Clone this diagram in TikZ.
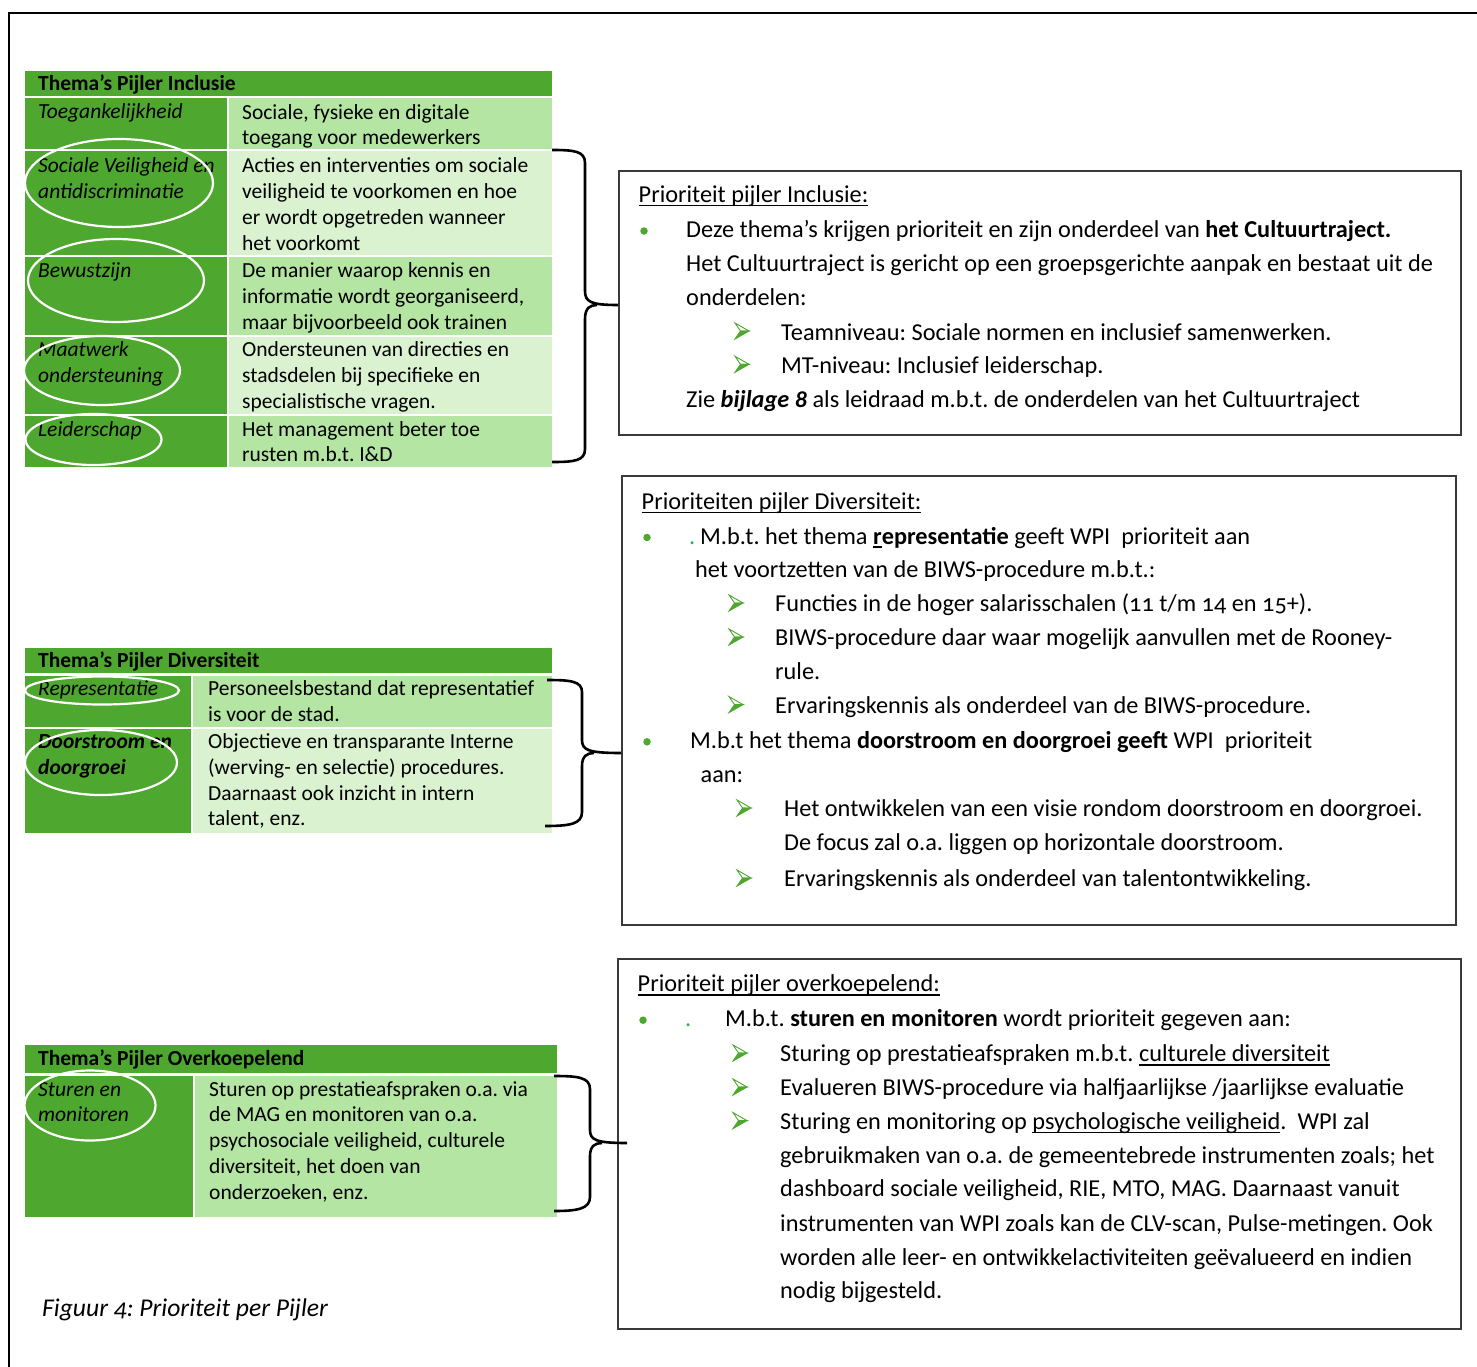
\documentclass[tikz,border=0pt]{standalone}
\usepackage{fontspec}
\setmainfont{Carlito}[Numbers=OldStyle]
\definecolor{dg}{HTML}{4EA72E}
\definecolor{mg}{HTML}{B4E5A2}
\definecolor{lg}{HTML}{DAF2D0}
\definecolor{bull}{HTML}{4EA72E}
\definecolor{dotc}{HTML}{2EB050}
\definecolor{bx}{HTML}{3A3A3A}
\newcommand\myul[1]{\setbox0\hbox{#1}\rlap{\rule[-3.8pt]{\wd0}{1.5pt}}\box0}
\begin{document}
\frenchspacing
\begin{tikzpicture}[x=1pt,y=-1pt,
  txt/.style={anchor=base west,inner sep=0pt,font=\fontsize{21.5}{26}\selectfont},
  itxt/.style={anchor=base west,inner sep=0pt,font=\fontsize{21.5}{26}\selectfont\itshape},
  htxt/.style={anchor=base west,inner sep=0pt,font=\fontsize{21.5}{26}\selectfont\bfseries},
  btxt/.style={anchor=base west,inner sep=0pt,font=\fontsize{24.3}{34}\selectfont},
  dotb/.style={circle,fill=bull,inner sep=0pt,minimum size=7.5pt},
  dotp/.style={anchor=base west,inner sep=0pt,text=dotc,font=\fontsize{24.3}{26}\selectfont},
  arrpic/.pic={
    \filldraw[draw=bull,fill=white,line width=0.9pt,line join=miter] (0,-8) -- (14,0) -- (5.5,0) -- cycle;
    \filldraw[draw=bull,fill=bull,line width=0.9pt,line join=miter] (5.5,0) -- (14,0) -- (0,8) -- cycle;},
  ell/.style={draw=white,line width=2.2pt},
  brc/.style={draw=black,line width=2.6pt},
  prbox/.style={draw=bx,line width=1.6pt,rectangle,inner sep=0pt,anchor=north west}]
\useasboundingbox (0,0) rectangle (1477,1367);
\fill[white] (0,0) rectangle (1477,1367);
% outer frame
\draw[line width=2.5pt] (9,1367) -- (9,13) -- (1477,13);

% ---------- Table Inclusie ----------
\fill[dg] (25,71) rectangle (552,96);
\fill[dg] (25,98) rectangle (227,149);  \fill[mg] (229,98) rectangle (552,149);
\fill[dg] (25,151) rectangle (227,255); \fill[lg] (229,151) rectangle (552,255);
\fill[dg] (25,257) rectangle (227,335); \fill[mg] (229,257) rectangle (552,335);
\fill[dg] (25,337) rectangle (227,414); \fill[lg] (229,337) rectangle (552,414);
\fill[dg] (25,416) rectangle (227,467); \fill[mg] (229,416) rectangle (552,467);

\node[htxt] (h1) at (38,90.7) {Thema’s Pijler Inclusie};
\node[itxt] (l11) at (38,118.5) {Toegankelijkheid};
\node[itxt] (l21) at (38,172.7) {Sociale Veiligheid en};
\node[itxt] (l22) at (38,198.3) {antidiscriminatie};
\node[itxt] (l31) at (38,277.7) {Bewustzijn};
\node[itxt] (l41) at (38,356.7) {Maatwerk};
\node[itxt] (l42) at (38,382.7) {ondersteuning};
\node[itxt] (l51) at (38,436.7) {Leiderschap};

\node[txt] (r11) at (242,119.3) {Sociale, fysieke en digitale};
\node[txt] (r12) at (242,144.5) {toegang voor medewerkers};
\node[txt] (r21) at (242,172.7) {Acties en interventies om sociale};
\node[txt] (r22) at (242,198.3) {veiligheid te voorkomen en hoe};
\node[txt] (r23) at (242,224.7) {er wordt opgetreden wanneer};
\node[txt] (r24) at (242,250) {het voorkomt};
\node[txt] (r31) at (242,277.7) {De manier waarop kennis en};
\node[txt] (r32) at (242,303.3) {informatie wordt georganiseerd,};
\node[txt] (r33) at (242,329.3) {maar bijvoorbeeld ook trainen};
\node[txt] (r41) at (242,356.7) {Ondersteunen van directies en};
\node[txt] (r42) at (242,382.7) {stadsdelen bij specifieke en};
\node[txt] (r43) at (242,408.3) {specialistische vragen.};
\node[txt] (r51) at (242,436.7) {Het management beter toe};
\node[txt] (r52) at (242,461.7) {rusten m.b.t. I\&D};

\draw[ell] (119,183) ellipse [x radius=94, y radius=44];
\draw[ell] (116,280.5) ellipse [x radius=88, y radius=41.5];
\draw[ell] (102,370.5) ellipse [x radius=78, y radius=34.5];
\draw[ell] (93.5,439.5) ellipse [x radius=68, y radius=25.5];

% ---------- Table Diversiteit ----------
\fill[dg] (25,648) rectangle (552,673);
\fill[dg] (25,676) rectangle (191,727); \fill[mg] (193,676) rectangle (552,727);
\fill[dg] (25,729) rectangle (191,833); \fill[lg] (193,729) rectangle (552,833);

\node[htxt] (h2) at (38,667.3) {Thema’s Pijler Diversiteit};
\node[itxt] (d11) at (38,695) {Representatie};
\node[itxt,font=\fontsize{21.5}{26}\selectfont\bfseries\itshape] (d21) at (38,748.3) {Doorstroom en};
\node[itxt,font=\fontsize{21.5}{26}\selectfont\bfseries\itshape] (d22) at (38,774) {doorgroei};
\node[txt] (e11) at (208,695) {Personeelsbestand dat representatief};
\node[txt] (e12) at (208,721.7) {is voor de stad.};
\node[txt] (e21) at (208,748.3) {Objectieve en transparante Interne};
\node[txt] (e22) at (208,774) {(werving- en selectie) procedures.};
\node[txt] (e23) at (208,800) {Daarnaast ook inzicht in intern};
\node[txt] (e24) at (208,825.5) {talent, enz.};

\draw[ell] (102,690.5) ellipse [x radius=77, y radius=14];
\draw[ell] (101,762.5) ellipse [x radius=76, y radius=32.5];

% ---------- Table Overkoepelend ----------
\fill[dg] (25,1045) rectangle (557,1073);
\fill[dg] (25,1076) rectangle (193,1217); \fill[mg] (195,1076) rectangle (557,1217);

\node[htxt] (h3) at (38,1065) {Thema’s Pijler Overkoepelend};
\node[itxt] (o11) at (38,1096) {Sturen en};
\node[itxt] (o12) at (38,1121) {monitoren};
\node[txt] (p11) at (209,1096) {Sturen op prestatieafspraken o.a. via};
\node[txt] (p12) at (209,1121.5) {de MAG en monitoren van o.a.};
\node[txt] (p13) at (209,1147.3) {psychosociale veiligheid, culturele};
\node[txt] (p14) at (209,1173.3) {diversiteit, het doen van};
\node[txt] (p15) at (209,1199.3) {onderzoeken, enz.};

\draw[ell] (90,1105.5) ellipse [x radius=65.5, y radius=35];

% caption
\node[anchor=base west,inner sep=0pt,font=\fontsize{25.6}{30}\selectfont\itshape] (cap) at (42,1316) {Figuur 4: Prioriteit per Pijler};

% ---------- Priority boxes ----------
\node[prbox,minimum width=842pt,minimum height=264pt] (box1) at (618,170) {};
\node[prbox,minimum width=834pt,minimum height=449pt] (box2) at (621,475) {};
\node[prbox,minimum width=843pt,minimum height=370pt] (box3) at (617,958) {};

% box 1
\node[btxt] (b1t) at (638.5,202.3) {\myul{Prioriteit pijler Inclusie:}};
\node[dotb] (b1d1) at (644,231) {};
\node[btxt] (b1a) at (686,237.3) {Deze thema’s krijgen prioriteit en zijn onderdeel van \textbf{het Cultuurtraject.}};
\node[btxt] (b1b) at (686,271.7) {Het Cultuurtraject is gericht op een groepsgerichte aanpak en bestaat uit de};
\node[btxt] (b1c) at (686,305.7) {onderdelen:};
\pic at (735,331) {arrpic};
\node[btxt] (b1e) at (781,340) {Teamniveau: Sociale normen en inclusief samenwerken.};
\pic at (735,364.3) {arrpic};
\node[btxt] (b1f) at (781,373.3) {MT-niveau: Inclusief leiderschap.};
\node[btxt] (b1g) at (686,407.3) {Zie \textbf{\textit{bijlage 8}} als leidraad m.b.t. de onderdelen van het Cultuurtraject};

% box 2
\node[btxt] (b2t) at (641.5,509.3) {\myul{Prioriteiten pijler Diversiteit:}};
\node[dotb] (b2d1) at (647,537.5) {};
\node[dotp] (b2p1) at (689,544) {.};
\node[btxt] (b2a) at (700,544) {M.b.t. het thema \textbf{\myul{r}epresentatie} geeft WPI~ prioriteit aan};
\node[btxt] (b2b) at (695,577.3) {het voortzetten van de BIWS-procedure m.b.t.:};
\pic at (729,603) {arrpic};
\node[btxt] (b2c) at (775,611.7) {Functies in de hoger salarisschalen (11 t/m 14 en 15+).};
\pic at (729,637) {arrpic};
\node[btxt] (b2d) at (775,645.7) {BIWS-procedure daar waar mogelijk aanvullen met de Rooney-};
\node[btxt] (b2e) at (775,679.3) {rule.};
\pic at (729,704.6) {arrpic};
\node[btxt] (b2f) at (775,713.3) {Ervaringskennis als onderdeel van de BIWS-procedure.};
\node[dotb] (b2d2) at (647,741.8) {};
\node[btxt] (b2g) at (690,748.3) {M.b.t het thema \textbf{doorstroom en doorgroei geeft} WPI~ prioriteit};
\node[btxt] (b2h) at (700.5,782.7) {aan:};
\pic at (737,808) {arrpic};
\node[btxt] (b2i) at (784,816.7) {Het ontwikkelen van een visie rondom doorstroom en doorgroei.};
\node[btxt] (b2j) at (784,850.7) {De focus zal o.a. liggen op horizontale doorstroom.};
\pic at (737,878) {arrpic};
\node[btxt] (b2k) at (784,886.7) {Ervaringskennis als onderdeel van talentontwikkeling.};

% box 3
\node[btxt] (b3t) at (637.5,991.7) {\myul{Prioriteit pijler overkoepelend:}};
\node[dotb] (b3d1) at (643,1020.2) {};
\node[dotp] (b3p1) at (685,1026.7) {.};
\node[btxt] (b3a) at (725,1026.7) {M.b.t. \textbf{sturen en monitoren} wordt prioriteit gegeven aan:};
\pic at (733,1053) {arrpic};
\node[btxt] (b3b) at (780,1061.7) {Sturing op prestatieafspraken m.b.t. \myul{culturele diversiteit}};
\pic at (733,1087) {arrpic};
\node[btxt] (b3c) at (780,1095.7) {Evalueren BIWS-procedure via halfjaarlijkse /jaarlijkse evaluatie};
\pic at (733,1120.6) {arrpic};
\node[btxt] (b3d) at (780,1129.3) {Sturing en monitoring op \myul{psychologische veiligheid}.~ WPI zal};
\node[btxt] (b3e) at (780,1163.3) {gebruikmaken van o.a. de gemeentebrede instrumenten zoals; het};
\node[btxt] (b3f) at (780,1196.7) {dashboard sociale veiligheid, RIE, MTO, MAG. Daarnaast vanuit};
\node[btxt] (b3g) at (780,1231) {instrumenten van WPI zoals kan de CLV-scan, Pulse-metingen. Ook};
\node[btxt] (b3h) at (780,1265) {worden alle leer- en ontwikkelactiviteiten geëvalueerd en indien};
\node[btxt] (b3i) at (780,1298.3) {nodig bijgesteld.};

% ---------- Braces ----------
\coordinate (tip1) at (box1.west |- 0,305);
\coordinate (tip2) at (box2.west |- 0,753);
\coordinate (tip3) at ([xshift=10pt]box3.west |- 0,1143);
\draw[brc] (552,150) .. controls (574,150) and (585,151) .. (585,163) -- (585,291)
  .. controls (585,302) and (591,305) .. (tip1);
\draw[brc] (597,305) .. controls (590,305) and (585,308) .. (585,319) -- (585,449)
  .. controls (585,461) and (574,462) .. (552,462);
\draw[brc] (547,680) .. controls (570,680) and (582,681) .. (582,692) -- (582,740)
  .. controls (582,750) and (588,753) .. (tip2);
\draw[brc] (594,753) .. controls (587,753) and (582,756) .. (582,766) -- (582,812)
  .. controls (582,824) and (570,826) .. (545,826);
\draw[brc] (554,1076) .. controls (577,1076) and (590,1077) .. (590,1089) -- (590,1130)
  .. controls (590,1140) and (596,1143) .. (tip3);
\draw[brc] (602,1143) .. controls (595,1143) and (590,1146) .. (590,1156) -- (590,1197)
  .. controls (590,1209) and (577,1211) .. (554,1211);
\end{tikzpicture}
\end{document}
